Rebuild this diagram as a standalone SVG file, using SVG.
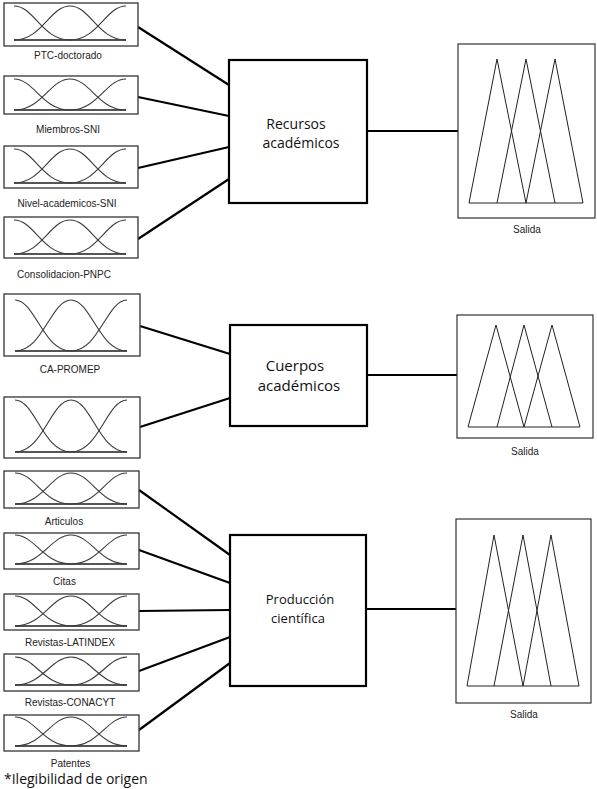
<svg xmlns="http://www.w3.org/2000/svg" xmlns:xlink="http://www.w3.org/1999/xlink" width="597" height="789" viewBox="0 0 597 789">
<style>
.in{fill:#fff;stroke:#333;stroke-width:1.3}
.mfc{fill:none;stroke:#3a3a3a;stroke-width:1.1}
.mfb{fill:none;stroke:#555;stroke-width:2}
.lbl{font-family:"Liberation Sans",Arial,sans-serif;font-size:10px;fill:#222;text-anchor:middle}
.ctr{fill:#fff;stroke:#000;stroke-width:2.2}
.ctxt{font-family:"Open Sans","Noto Sans",sans-serif;fill:#111;text-anchor:middle}
.out{fill:#fff;stroke:#333;stroke-width:1.2}
.tri{fill:none;stroke:#222;stroke-width:1}
.con{fill:none;stroke:#000;stroke-width:2.2}
</style>
<defs>
<g id="mf">
<path class="mfb" vector-effect="non-scaling-stroke" d="M0,34 H112"/>
<path class="mfc" vector-effect="non-scaling-stroke" d="M0,0 C20,0 28,34 56,34"/>
<path class="mfc" vector-effect="non-scaling-stroke" d="M0,34 C28,34 36,0 56,0 C76,0 84,34 112,34"/>
<path class="mfc" vector-effect="non-scaling-stroke" d="M56,34 C84,34 92,0 112,0"/>
</g>
</defs>
<rect width="597" height="789" fill="#fff"/>

<g id="connectors">
<path class="con" d="M138,27 L229,85"/>
<path class="con" d="M138,97 L229,116"/>
<path class="con" d="M138,168 L229,147"/>
<path class="con" d="M138,239 L229,179"/>
<path class="con" d="M367,131 L458,131"/>
<path class="con" d="M140,326 L230,354"/>
<path class="con" d="M140,427 L230,398"/>
<path class="con" d="M367,375 L457,375"/>
<path class="con" d="M139,490 L230,555"/>
<path class="con" d="M139,550 L230,583"/>
<path class="con" d="M139,611 L230,610"/>
<path class="con" d="M139,671 L230,637"/>
<path class="con" d="M139,730 L230,663"/>
<path class="con" d="M366,609 L456,609"/>
</g>

<g id="in-ptc">
<rect class="in" x="4" y="3" width="134" height="43"/>
<use xlink:href="#mf" transform="translate(14,6)"/>
<text class="lbl" x="68" y="59">PTC-doctorado</text>
</g>
<g id="in-miembros">
<rect class="in" x="4" y="76" width="134" height="38"/>
<use xlink:href="#mf" transform="translate(14,79) scale(1,0.912)"/>
<text class="lbl" x="68" y="132.5">Miembros-SNI</text>
</g>
<g id="in-nivel">
<rect class="in" x="4" y="146" width="134" height="42"/>
<use xlink:href="#mf" transform="translate(14,149)"/>
<text class="lbl" x="67" y="206.5">Nivel-academicos-SNI</text>
</g>
<g id="in-consolidacion">
<rect class="in" x="4" y="217" width="134" height="41"/>
<use xlink:href="#mf" transform="translate(14,220)"/>
<text class="lbl" x="64" y="278">Consolidacion-PNPC</text>
</g>

<g id="recursos">
<rect class="ctr" x="229" y="60" width="138" height="143"/>
<text class="ctxt" font-size="14" x="296" y="129">Recursos</text>
<text class="ctxt" font-size="14" x="301" y="148">académicos</text>
</g>
<g id="out-recursos">
<rect class="out" x="458" y="44" width="137" height="174"/>
<path class="tri" d="M469,203 L497,59 L526,203 M497,203 L526,59 L555,203 M526,203 L555,59 L583,203 M469,203 H583"/>
<text class="lbl" x="527" y="233">Salida</text>
</g>

<g id="in-capromep">
<rect class="in" x="4" y="294" width="136" height="62"/>
<use xlink:href="#mf" transform="translate(15,300) scale(1,1.5)"/>
<text class="lbl" x="70" y="372.5">CA-PROMEP</text>
</g>
<g id="in-ca2">
<rect class="in" x="4" y="397" width="136" height="61"/>
<use xlink:href="#mf" transform="translate(15,400) scale(1,1.53)"/>
</g>

<g id="cuerpos">
<rect class="ctr" x="230" y="325" width="137" height="101"/>
<text class="ctxt" font-size="15" x="295" y="371">Cuerpos</text>
<text class="ctxt" font-size="15" x="299" y="391">académicos</text>
</g>
<g id="out-cuerpos">
<rect class="out" x="457" y="315" width="136" height="123"/>
<path class="tri" d="M468,427 L496,325 L524,427 M497,427 L524,325 L552,427 M524,427 L552,325 L580,427 M468,427 H580"/>
<text class="lbl" x="525" y="455">Salida</text>
</g>

<g id="in-articulos">
<rect class="in" x="4" y="471" width="135" height="37"/>
<use xlink:href="#mf" transform="translate(15,473) scale(1,0.912)"/>
<text class="lbl" x="64" y="525">Articulos</text>
</g>
<g id="in-citas">
<rect class="in" x="4" y="533" width="135" height="36"/>
<use xlink:href="#mf" transform="translate(15,535) scale(1,0.853)"/>
<text class="lbl" x="64.5" y="585">Citas</text>
</g>
<g id="in-latindex">
<rect class="in" x="4" y="594" width="135" height="36"/>
<use xlink:href="#mf" transform="translate(15,596) scale(1,0.882)"/>
<text class="lbl" x="70" y="645.5">Revistas-LATINDEX</text>
</g>
<g id="in-conacyt">
<rect class="in" x="4" y="654" width="135" height="37"/>
<use xlink:href="#mf" transform="translate(15,657) scale(1,0.824)"/>
<text class="lbl" x="70" y="705.5">Revistas-CONACYT</text>
</g>
<g id="in-patentes">
<rect class="in" x="4" y="715" width="135" height="36"/>
<use xlink:href="#mf" transform="translate(15,717) scale(1,0.853)"/>
<text class="lbl" x="70.5" y="766.5">Patentes</text>
</g>

<g id="produccion">
<rect class="ctr" x="230" y="535" width="136" height="151"/>
<text class="ctxt" font-size="13" x="300" y="604">Producción</text>
<text class="ctxt" font-size="13" x="298" y="623">científica</text>
</g>
<g id="out-produccion">
<rect class="out" x="456" y="519" width="135" height="184"/>
<path class="tri" d="M467,686 L494,535 L523,686 M494,686 L523,535 L551,686 M523,686 L551,535 L579,686 M467,686 H579"/>
<text class="lbl" x="524" y="718">Salida</text>
</g>

<g id="note">
<text font-family="'Open Sans','Noto Sans',sans-serif" font-size="14" fill="#111" x="4" y="784">*Ilegibilidad de origen</text>
</g>
</svg>
